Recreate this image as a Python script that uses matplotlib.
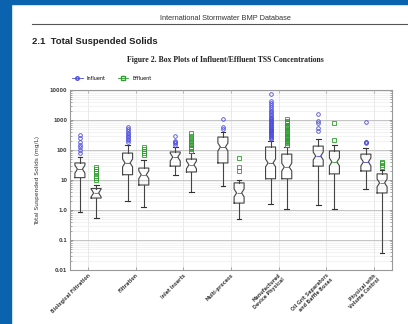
import numpy as np
import matplotlib.pyplot as plt
from matplotlib.patches import Rectangle
from matplotlib.lines import Line2D

categories = ['Biological Filtration', 'Filtration', 'Inlet Inserts', 'Multi-process',
              'Manufactured\nDevice Physical', 'Oil Grit Separators\nand Baffle Boxes',
              'Physical with\nVolume Control']

# influent TSS (mg/L)
inf_q1 = [12, 15, 29, 37, 11, 29, 20]
inf_med = [23, 37, 58, 126, 37, 63, 40]
inf_q3 = [37, 79, 86, 270, 126, 135, 73]
inf_lo = [0.85, 2.0, 15, 6.3, 1.6, 1.5, 5.0]
inf_hi = [58, 150, 130, 400, 200, 230, 116]
inf_out = [
    [80, 100, 125, 150, 190, 250, 316],
    [185, 210, 240, 270, 300, 340, 380, 430, 500, 590],
    [150, 165, 180, 200, 290],
    [500, 585, 1080],
    [230, 250, 270, 290, 310, 330, 360, 390, 420, 450, 480, 520, 560, 600, 650,
     700, 760, 820, 880, 950, 1020, 1100, 1200, 1300, 1450, 1600, 1800, 2000,
     2300, 2700, 3200, 3800, 4300, 7400],
    [430, 540, 790, 925, 1600],
    [170, 180, 190, 860],
]

# effluent TSS (mg/L)
eff_q1 = [2.5, 6.8, 18.5, 1.7, 11, 16, 3.7]
eff_med = [3.7, 15, 32, 3.7, 27, 40, 8]
eff_q3 = [5.2, 25, 50, 8, 73, 93, 16]
eff_lo = [0.54, 1.26, 4.0, 0.5, 1.07, 1.07, 0.037]
eff_hi = [6.8, 46, 80, 10, 130, 147, 21]
eff_out = [
    [10, 12, 14, 17, 20, 24, 27],
    [68, 80, 95, 110, 126],
    [95, 105, 115, 130, 145, 160, 180, 200, 230, 260, 300, 360],
    [20, 27, 54],
    [150, 165, 180, 200, 220, 240, 260, 280, 300, 330, 360, 400, 440, 480, 530,
     580, 640, 700, 780, 860, 950, 1050],
    [220, 800],
    [28, 32, 36, 40],
]

blue = '#4a4ae0'
green = '#2e9e2e'
notch = 1.35


def make_stats(q1, med, q3, lo, hi, out):
    stats = []
    for a, m, b, l, h, f in zip(q1, med, q3, lo, hi, out):
        stats.append(dict(q1=a, med=m, q3=b, whislo=l, whishi=h,
                          fliers=np.array(f), cilo=m / notch, cihi=m * notch))
    return stats


fig = plt.figure(figsize=(4.08, 3.24), dpi=100)

# page decoration
fig.patches.append(Rectangle((0, 0), 11 / 408, 1, transform=fig.transFigure,
                             color='#0b63b0', zorder=5))
fig.patches.append(Rectangle((0, 1 - 4 / 324), 1, 4 / 324, transform=fig.transFigure,
                             color='#0b63b0', zorder=5))
fig.lines.append(Line2D([32 / 408, 1], [1 - 24 / 324, 1 - 24 / 324],
                        transform=fig.transFigure, color='#555555', lw=0.8))
fig.text(225 / 408, 1 - 18 / 324, 'International Stormwater BMP Database',
         ha='center', va='center', fontsize=5.3, family='Liberation Sans', color='#333333')
fig.text(32 / 408, 1 - 42 / 324, '2.1  Total Suspended Solids', ha='left', va='center',
         fontsize=6.8, fontweight='bold', family='Liberation Sans', color='#222222')
fig.text(225 / 408, 1 - 60 / 324, 'Figure 2. Box Plots of Influent/Effluent TSS Concentrations',
         ha='center', va='center', fontsize=5.6, fontweight='bold',
         family='Liberation Serif', color='#222222')

ax = fig.add_axes([70 / 408, 54 / 324, 322 / 408, 180 / 324])
ax.set_yscale('log')
ax.set_ylim(0.01, 10000)
ax.set_xlim(0.622, 7.378)

pos = np.arange(1, len(categories) + 1)
off = 0.17

for stats, p, col, mk in [(make_stats(inf_q1, inf_med, inf_q3, inf_lo, inf_hi, inf_out), pos - off, blue, 'o'),
                          (make_stats(eff_q1, eff_med, eff_q3, eff_lo, eff_hi, eff_out), pos + off, green, 's')]:
    ax.bxp(stats, positions=p, widths=0.21, shownotches=True, showfliers=True,
           capwidths=0.1, manage_ticks=False,
           boxprops=dict(color='#444444', lw=0.8),
           whiskerprops=dict(color='#444444', lw=0.8),
           capprops=dict(color='#333333', lw=0.8),
           medianprops=dict(color=col, lw=0.6),
           flierprops=dict(marker=mk, markersize=2.6, markerfacecolor='none',
                           markeredgecolor=col, markeredgewidth=0.6))

ax.set_xticks(pos)
ax.set_xticklabels(categories, rotation=45, ha='right', rotation_mode='anchor',
                   fontsize=3.4, fontweight='bold', color='#444444', linespacing=1.1)
ax.set_yticks([0.01, 0.1, 1, 10, 100, 1000, 10000])
ax.set_yticklabels(['0.01', '0.1', '1.0', '10', '100', '1000', '10000'],
                   fontsize=3.6, fontweight='bold', color='#444444')
ax.set_ylabel('Total Suspended Solids (mg/L)', fontsize=4.2, color='#333333', labelpad=7)

ax.tick_params(axis='both', which='both', top=True, right=True, direction='in',
               color='#888888', length=2.5, width=0.5, pad=2)
ax.tick_params(axis='y', which='minor', length=1.5)
ax.grid(True, which='major', axis='y', color='#bbbbbb', lw=0.6)
ax.grid(True, which='minor', axis='y', color='#e8e8e8', lw=0.4)
ax.grid(True, which='major', axis='x', color='#e0e0e0', lw=0.5)
ax.set_axisbelow(True)
for s in ax.spines.values():
    s.set_color('#999999')
    s.set_linewidth(0.8)

h1 = Line2D([], [], color=blue, marker='o', markersize=2.5, markerfacecolor='none', lw=0.6)
h2 = Line2D([], [], color=green, marker='s', markersize=2.5, markerfacecolor='none', lw=0.6)
fig.legend([h1, h2], ['Influent', 'Effluent'], loc='center left',
           bbox_to_anchor=(70 / 408, 1 - 78 / 324), ncol=2, frameon=False,
           fontsize=3.5, handlelength=2.2, columnspacing=2.5, borderaxespad=0)

fig.savefig('out.png', dpi=100)
